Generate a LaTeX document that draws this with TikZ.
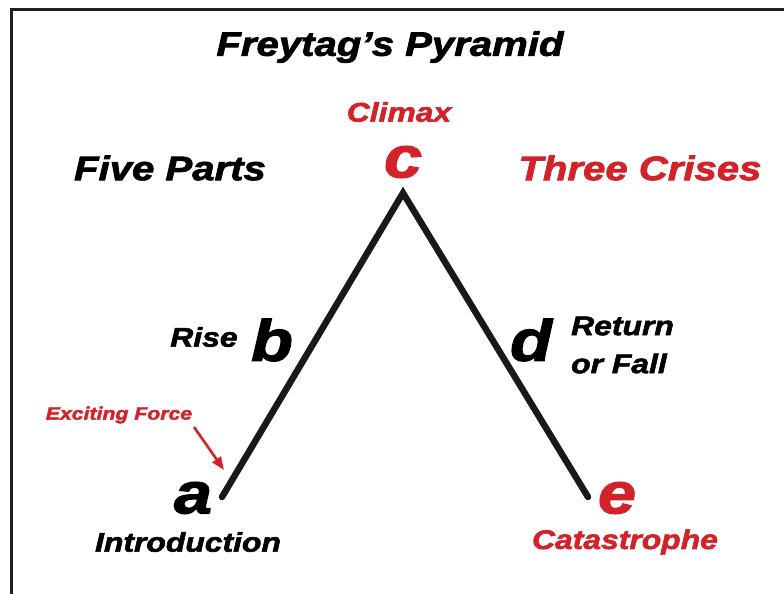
\documentclass[tikz,border=0pt]{standalone}
\usepackage{fontspec}
\newfontfamily\blk[FakeBold=2.2,FakeStretch=1.18]{Liberation Sans}
\usetikzlibrary{arrows.meta}
\definecolor{fred}{RGB}{210,35,42}
\tikzset{
  lbl/.style={inner sep=0pt, font=\blk\bfseries\itshape},
  big/.style={lbl, font=\blk\bfseries\itshape\fontsize{58}{60}\selectfont},
  mid/.style={lbl, font=\blk\bfseries\itshape\fontsize{27}{30}\selectfont},
  head/.style={lbl, font=\blk\bfseries\itshape\fontsize{34}{38}\selectfont},
  small/.style={lbl, font=\blk\bfseries\itshape\fontsize{18}{20}\selectfont},
  pyr/.style={line width=6.5pt, line cap=round, line join=miter, black!90},
}
\begin{document}
\begin{tikzpicture}[x=1pt,y=1pt]
\useasboundingbox (0,0) rectangle (784,594);
\draw[line width=3pt, black!88] (11.5,0) -- (11.5,584.5) -- (784,584.5);
% title
\node[head] (title) at (390,547) {Freytag’s Pyramid};
\node[head] (five) at (170,426) {Five Parts};
\node[head, fred] (three) at (640,426) {Three Crises};
\node[mid, fred] (climax) at (399,482) {Climax};
% pyramid
\coordinate (A) at (222,97);
\coordinate (C) at (403,401);
\coordinate (E) at (588,97);
\draw[pyr] (A) -- (C) -- (E);
% letters
\node[big, fred] (c) at (403,432) {c};
\node[big] (b) at (272,254) {b};
\node[big] (d) at (531,254) {d};
\node[big] (a) at (193,96) {a};
\node[big, fred] (e) at (617,96) {e};
% labels
\node[mid] (rise) at (204,257) {Rise};
\node[mid, align=left, anchor=west] (ret) at (571,249) {Return\\[8pt]or Fall};
\node[mid] (intro) at (188,52) {Introduction};
\node[mid, fred] (cat) at (625,52) {Catastrophe};
\node[small, fred] (exc) at (119,179) {Exciting Force};
\coordinate (ar1) at (194,167);
\coordinate (ar2) at (224,124);
\draw[fred, line width=2.6pt, -{Triangle[length=13pt,width=10pt]}] (ar1) -- (ar2);
\end{tikzpicture}
\end{document}
